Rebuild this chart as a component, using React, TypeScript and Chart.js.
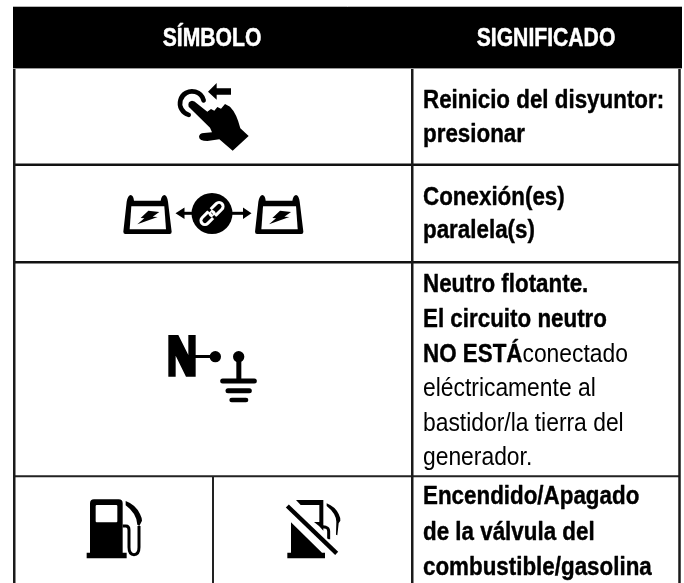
import React, { useEffect, useRef } from "react";
import { Chart, registerables } from "chart.js";

Chart.register(...registerables);

// Table content
const headers = ["SÍMBOLO", "SIGNIFICADO"];
const meaningRows = [
  [[["Reinicio del disyuntor:", true]], [["presionar", true]]],
  [[["Conexión(es)", true]], [["paralela(s)", true]]],
  [
    [["Neutro flotante.", true]],
    [["El circuito neutro", true]],
    [["NO ESTÁ", true], ["conectado", false]],
    [["eléctricamente al", false]],
    [["bastidor/la tierra del", false]],
    [["generador.", false]],
  ],
  [[["Encendido/Apagado", true]], [["de la válvula del", true]], [["combustible/gasolina", true]]],
];

// Layout, in the units of the two hidden linear scales
const W = 684;
const H = 583;
const L = {
  headerTop: 7, headerBottom: 68, left: 13, right: 682,
  xLeft: 14.25, xMid: 412.25, xRight: 679.5, xLowerMid: 213,
  rowLines: [164.75, 262.25, 476.25],
  headerX: [212, 546], headerBase: 46,
  textX: 423,
  baselines: [[108, 142], [205, 238], [292, 327, 362, 396, 431, 465], [504, 540, 575]],
};

const gridLines = [
  { pts: [[L.left, 6.5], [L.right, 6.5]], c: "#b5b5b5", w: 1 },
  { pts: [[L.left, 68.5], [L.right, 68.5]], c: "#9a9a9a", w: 1.2 },
  { pts: [[L.xLeft, 68], [L.xLeft, H]], c: "#1a1a1a", w: 2.5 },
  { pts: [[L.xMid, 68], [L.xMid, H]], c: "#1a1a1a", w: 2.5 },
  { pts: [[L.xRight, 68], [L.xRight, H]], c: "#1a1a1a", w: 2.5 },
  { pts: [[L.xLeft, L.rowLines[0]], [L.xRight, L.rowLines[0]]], c: "#111", w: 2.5 },
  { pts: [[L.xLeft, L.rowLines[1]], [L.xRight, L.rowLines[1]]], c: "#111", w: 2.5 },
  { pts: [[L.xLeft, L.rowLines[2]], [L.xRight, L.rowLines[2]]], c: "#222", w: 2 },
  { pts: [[L.xLowerMid, L.rowLines[2]], [L.xLowerMid, H]], c: "#222", w: 2 },
];

const FONT = '"Liberation Sans", sans-serif';
const HEADER_SX = 0.846;
const BOLD_SX = 0.895;
const REG_SX = 0.914;

function drawStretched(ctx: CanvasRenderingContext2D, t: string, x: number, y: number, sx: number, embolden: number) {
  ctx.save();
  ctx.translate(x, y);
  ctx.scale(sx, 1);
  ctx.fillText(t, 0, 0);
  if (embolden > 0) {
    ctx.lineWidth = embolden;
    ctx.strokeStyle = ctx.fillStyle as string;
    ctx.lineJoin = "round";
    ctx.strokeText(t, 0, 0);
  }
  ctx.restore();
}

// Icon helper: draws in 3x crop-local units around an origin
function local(ctx: CanvasRenderingContext2D, ox: number, oy: number, fn: () => void) {
  ctx.save();
  ctx.translate(ox, oy);
  ctx.scale(1 / 3, 1 / 3);
  ctx.fillStyle = "#000";
  ctx.strokeStyle = "#000";
  fn();
  ctx.restore();
}
const fillP = (ctx: CanvasRenderingContext2D, d: string, c = "#000") => {
  ctx.fillStyle = c;
  ctx.fill(new Path2D(d));
};
const strokeP = (ctx: CanvasRenderingContext2D, d: string, w: number, c = "#000", cap: CanvasLineCap = "butt") => {
  ctx.strokeStyle = c;
  ctx.lineWidth = w;
  ctx.lineCap = cap;
  ctx.stroke(new Path2D(d));
};

function hand(ctx: CanvasRenderingContext2D) {
  local(ctx, 130, 60, () => {
    fillP(ctx, "M234,95 L260,69 L260,85 L303,85 L303,104 L260,104 L260,119 Z");
    ctx.strokeStyle = "#000";
    ctx.lineWidth = 14;
    ctx.lineCap = "round";
    ctx.beginPath();
    ctx.arc(186, 130, 36, 1.85, Math.PI * 2 - 0.25);
    ctx.stroke();
    fillP(ctx, "M176,140 Q172,124 186,122 Q194,122 200,130 L232,155 L243,147 L253,152 L262,141 L273,146 L285,132 L300,140 Q320,160 331,205 L356,228 L308,272 L268,238 L232,243 Q208,243 207,230 Q208,220 222,219 L246,217 L240,203 Z");
  });
}

function battery(ctx: CanvasRenderingContext2D, ox: number) {
  local(ctx, ox, 185, () => {
    fillP(ctx, "M10,140 L20,50 Q24,30 32,30 Q40,31 42,47 L122,47 Q125,31 133,30 Q141,31 144,50 L155,140 Q155,147 149,147 L16,147 Q10,147 10,140 Z");
    fillP(ctx, "M34,64 L133,64 L138,133 L29,133 Z", "#fff");
    fillP(ctx, "M85,77 L118,81 L98,95 L113,96 L52,118 L73,100 L62,99 Z");
  });
}

function linkAndArrows(ctx: CanvasRenderingContext2D) {
  ctx.save();
  ctx.fillStyle = "#000";
  ctx.beginPath();
  ctx.arc(212, 213.5, 20.5, 0, Math.PI * 2);
  ctx.fill();
  ctx.fillRect(183, 211.8, 12, 3);
  ctx.fillRect(228, 211.8, 16, 3);
  ctx.beginPath();
  ctx.moveTo(175.5, 213.3); ctx.lineTo(184.5, 207.5); ctx.lineTo(184.5, 219); ctx.closePath();
  ctx.moveTo(251.5, 213.3); ctx.lineTo(243, 207.5); ctx.lineTo(243, 219); ctx.closePath();
  ctx.fill();
  ctx.translate(212, 213.5);
  ctx.rotate(-Math.PI / 4);
  ctx.strokeStyle = "#fff";
  ctx.lineWidth = 3;
  ctx.beginPath();
  ctx.roundRect(-14, -4, 16, 8, 4);
  ctx.stroke();
  ctx.beginPath();
  ctx.roundRect(-2, -4, 16, 8, 4);
  ctx.stroke();
  ctx.fillStyle = "#000";
  ctx.fillRect(-1, -6, 3, 3.2);
  ctx.fillRect(-2.5, 2.6, 3, 3.2);
  ctx.restore();
}

function neutral(ctx: CanvasRenderingContext2D) {
  local(ctx, 160, 325, () => {
    fillP(ctx, "M25,30 L55,30 L85,90 L85,30 L107,30 L107,155 L78,155 L47,92 L47,155 L25,155 Z");
    ctx.fillRect(100, 90, 60, 9);
    ctx.beginPath(); ctx.arc(166, 95, 17, 0, 7); ctx.fill();
    ctx.beginPath(); ctx.arc(236, 95, 17, 0, 7); ctx.fill();
    ctx.fillRect(229, 100, 15, 65);
    strokeP(ctx, "M188,168 L283,168", 15, "#000", "round");
    strokeP(ctx, "M204,197 L268,197", 15, "#000", "round");
    strokeP(ctx, "M215,225 L258,225", 14, "#000", "round");
  });
}

function pump(ctx: CanvasRenderingContext2D) {
  local(ctx, 80, 490, () => {
    fillP(ctx, "M30,40 Q30,28 42,28 L116,28 Q128,28 128,40 L128,188 L140,188 L140,205 L20,205 L20,188 L30,188 Z");
    fillP(ctx, "M47,48 Q47,45 50,45 L109,45 Q112,45 112,48 L112,94 Q112,97 109,97 L50,97 Q47,97 47,94 Z", "#fff");
    strokeP(ctx, "M128,108 L138,108 Q147,108 147,120 L147,172 Q147,194 162,194 Q177,194 177,172 L177,108", 9);
    fillP(ctx, "M137,33 Q167,44 180,72 Q186,84 186,92 L178,108 L172,104 Q170,70 137,46 Z");
  });
}

function noPump(ctx: CanvasRenderingContext2D) {
  local(ctx, 280, 490, () => {
    fillP(ctx, "M48,30 L130,30 L130,122 L117,108 L102,96 L118,96 L118,45 L62,45 Z");
    strokeP(ctx, "M128,110 L138,112 Q146,114 146,124 L146,148", 9);
    fillP(ctx, "M140,40 Q165,50 176,72 Q182,84 181,92 L176,100 L172,136 L168,134 L169,95 Q168,70 140,48 Z");
    strokeP(ctx, "M16,42 L176,196", 26, "#fff");
    strokeP(ctx, "M22,48 L170,190", 13);
    fillP(ctx, "M33,97 L33,188 L22,188 L22,205 L135,205 L135,188 L126,188 Z");
  });
}

const tablePlugin = {
  id: "tablePlugin",
  beforeDatasetsDraw(chart: any) {
    const { ctx, scales } = chart;
    const x = (v: number) => scales.x.getPixelForValue(v);
    const y = (v: number) => scales.y.getPixelForValue(v);
    ctx.save();
    ctx.fillStyle = "#fff";
    ctx.fillRect(0, 0, W, H);
    ctx.fillStyle = "#000";
    ctx.fillRect(x(L.left), y(L.headerTop), x(L.right) - x(L.left), y(L.headerBottom) - y(L.headerTop));
    ctx.restore();
  },
  afterDatasetsDraw(chart: any) {
    const { ctx, scales } = chart;
    const x = (v: number) => scales.x.getPixelForValue(v);
    const y = (v: number) => scales.y.getPixelForValue(v);
    ctx.save();
    ctx.textBaseline = "alphabetic";
    ctx.textAlign = "left";
    ctx.fillStyle = "#fff";
    ctx.font = `bold 25px ${FONT}`;
    headers.forEach((h, i) => {
      const tw = ctx.measureText(h).width * HEADER_SX;
      drawStretched(ctx, h, x(L.headerX[i]) - tw / 2, y(L.headerBase), HEADER_SX, 0.5);
    });
    ctx.fillStyle = "#000";
    meaningRows.forEach((row, r) => {
      row.forEach((line: any, li: number) => {
        let cx = x(L.textX);
        line.forEach(([t, bold]: [string, boolean]) => {
          ctx.font = `${bold ? "bold " : ""}25px ${FONT}`;
          const sx = bold ? BOLD_SX : REG_SX;
          drawStretched(ctx, t, cx, y(L.baselines[r][li]), sx, bold ? 0.4 : 0);
          cx += ctx.measureText(t).width * sx;
        });
      });
    });
    ctx.restore();
    hand(ctx);
    battery(ctx, 120);
    battery(ctx, 251.7);
    linkAndArrows(ctx);
    neutral(ctx);
    pump(ctx);
    noPump(ctx);
  },
};

export default function App() {
  const ref = useRef<HTMLCanvasElement>(null);
  useEffect(() => {
    const chart = new Chart(ref.current!, {
      type: "scatter",
      data: {
        datasets: gridLines.map((g) => ({
          data: g.pts.map(([a, b]) => ({ x: a, y: b })),
          showLine: true,
          borderColor: g.c,
          borderWidth: g.w,
          pointRadius: 0,
          tension: 0,
        })),
      },
      options: {
        animation: false,
        responsive: false,
        layout: { padding: 0 },
        plugins: { legend: { display: false }, tooltip: { enabled: false }, title: { display: false } },
        scales: {
          x: { type: "linear", min: 0, max: W, display: false },
          y: { type: "linear", min: 0, max: H, reverse: true, display: false },
        },
      },
      plugins: [tablePlugin],
    } as any);
    return () => chart.destroy();
  }, []);
  return (
    <div style={{ position: "absolute", left: 0, top: 0, width: W, height: H, background: "#fff" }}>
      <canvas ref={ref} width={W} height={H} style={{ display: "block" }} />
    </div>
  );
}
